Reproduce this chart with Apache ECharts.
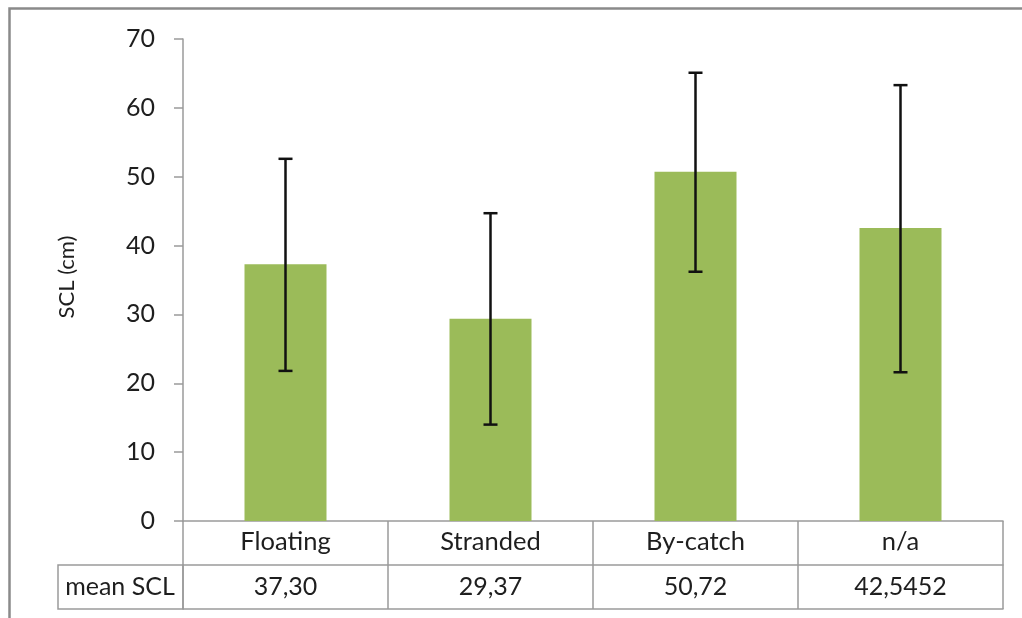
<!DOCTYPE html>
<html>
<head>
<meta charset="utf-8">
<script src="https://cdn.jsdelivr.net/npm/echarts@6/dist/echarts.min.js"></script>
<style>html,body{margin:0;padding:0;background:#fff}#c{width:1022px;height:618px}</style>
</head>
<body>
<div id="c"></div>
<script>
const categories = ['Floating', 'Stranded', 'By-catch', 'n/a'];
const meanSCL = [37.30, 29.37, 50.72, 42.5452];
const meanLabels = ['37,30', '29,37', '50,72', '42,5452'];
const errLow = [21.8, 14.0, 36.2, 21.6];
const errHigh = [52.6, 44.7, 65.1, 63.3];
const yTicks = [0, 10, 20, 30, 40, 50, 60, 70];
const yTitle = 'SCL (cm)';

const FONT = 'Lato';
const GRAY = '#9a9a9a';
const TXT = '#1e1e1e';
const chart = echarts.init(document.getElementById('c'));
const errData = categories.map((c, i) => [i, errLow[i], errHigh[i]]);

chart.setOption({
  animation: false,
  textStyle: { fontFamily: FONT },
  grid: { left: 183, right: 19, top: 39, bottom: 97 },
  xAxis: [
    {
      type: 'category', data: categories, position: 'bottom',
      axisLine: { show: true, lineStyle: { color: GRAY, width: 1.5 } },
      axisTick: { show: true, interval: 0, length: 88, lineStyle: { color: GRAY, width: 1.5 } },
      axisLabel: { interval: 0, margin: 21, verticalAlign: 'middle', fontSize: 25.5, color: TXT, fontFamily: FONT }
    },
    {
      type: 'category', data: meanLabels, position: 'bottom', offset: 44,
      axisLine: { show: true, lineStyle: { color: GRAY, width: 1.5 } },
      axisTick: { show: false },
      axisLabel: { interval: 0, margin: 22, verticalAlign: 'middle', fontSize: 25, color: TXT, fontFamily: FONT }
    },
    {
      type: 'category', data: categories, position: 'bottom', offset: 88,
      axisLine: { show: true, lineStyle: { color: GRAY, width: 1.5 } },
      axisTick: { show: false },
      axisLabel: { show: false }
    }
  ],
  yAxis: {
    type: 'value', min: 0, max: 70, interval: 10,
    axisLine: { show: true, lineStyle: { color: GRAY, width: 1.5 } },
    axisTick: { show: true, length: 9, lineStyle: { color: GRAY, width: 1.5 } },
    axisLabel: { margin: 28, fontSize: 25, color: TXT, fontFamily: FONT,
      formatter: v => yTicks.includes(v) ? String(v) : '' },
    splitLine: { show: false }
  },
  series: [
    {
      type: 'bar', data: meanSCL, barWidth: '40%',
      itemStyle: { color: '#9BBB59' }
    },
    {
      type: 'custom', data: errData, z: 10,
      renderItem: function (params, api) {
        const x = api.value(0);
        const lo = api.coord([x, api.value(1)]);
        const hi = api.coord([x, api.value(2)]);
        const hw = 7;
        const st = { stroke: '#111', lineWidth: 2.5 };
        return {
          type: 'group',
          children: [
            { type: 'line', shape: { x1: lo[0], y1: lo[1], x2: hi[0], y2: hi[1] }, style: st },
            { type: 'line', shape: { x1: lo[0] - hw, y1: lo[1], x2: lo[0] + hw, y2: lo[1] }, style: st },
            { type: 'line', shape: { x1: hi[0] - hw, y1: hi[1], x2: hi[0] + hw, y2: hi[1] }, style: st }
          ]
        };
      }
    }
  ],
  graphic: [
    { type: 'rect', shape: { x: 9.5, y: 8.5, width: 1200, height: 800 },
      style: { fill: 'none', stroke: '#8a8a8a', lineWidth: 2.5 }, silent: true },
    { type: 'rect', shape: { x: 58, y: 565, width: 125, height: 44 },
      style: { fill: 'none', stroke: GRAY, lineWidth: 1.5 }, silent: true },
    { type: 'text', x: 120, y: 587,
      style: { text: 'mean SCL', font: '25px ' + FONT, fill: TXT, align: 'center', verticalAlign: 'middle' } },
    { type: 'text', x: 67, y: 277, rotation: Math.PI / 2,
      style: { text: yTitle, font: '22px ' + FONT, fill: TXT, align: 'center', verticalAlign: 'middle' } }
  ]
});
</script>
</body>
</html>
